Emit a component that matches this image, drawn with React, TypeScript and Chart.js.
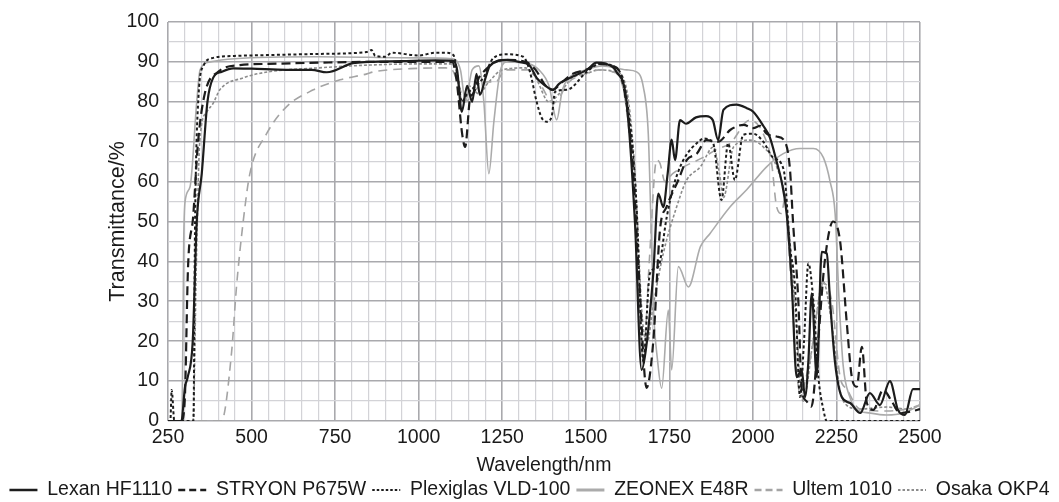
import React, { useEffect, useRef } from "react";
import { Chart, registerables } from "chart.js";

Chart.register(...registerables);

const seriesNames = ["Lexan HF1110", "STRYON P675W", "Plexiglas VLD-100", "ZEONEX E48R", "Ultem 1010", "Osaka OKP4"];

const xTickLabels = [250, 500, 750, 1000, 1250, 1500, 1750, 2000, 2250, 2500];
const yTickLabels = [0, 10, 20, 30, 40, 50, 60, 70, 80, 90, 100];

const lexanNm = [250, 290, 301, 309, 324, 336, 351, 368, 385, 410, 445, 500, 605, 680, 725, 803, 850, 950, 1050, 1100, 1115, 1129, 1145, 1160, 1173, 1183, 1200, 1213, 1263, 1300, 1333, 1353, 1380, 1402, 1420, 1453, 1503, 1532, 1560, 1592, 1622, 1647, 1667, 1680, 1702, 1717, 1732, 1745, 1757, 1767, 1782, 1800, 1830, 1860, 1880, 1896, 1912, 1951, 1982, 2001, 2031, 2051, 2071, 2086, 2101, 2116, 2131, 2146, 2156, 2166, 2176, 2191, 2206, 2221, 2231, 2246, 2266, 2291, 2321, 2350, 2380, 2410, 2434, 2455, 2479, 2500];
const lexanT = [0, 0, 8.6, 11, 20, 50, 62, 80, 86, 87.5, 88.4, 88.3, 88, 88, 87.4, 89.7, 90, 90.2, 90.4, 90.3, 88, 77.5, 84, 80, 87, 81.7, 86, 89, 90.5, 90, 89, 86, 84, 83, 84.5, 86, 88, 89.8, 89.5, 87.5, 80, 50, 12.8, 18, 37, 57, 53.6, 62, 70.5, 65.4, 75.4, 74.5, 76.1, 76.4, 75.4, 70.4, 78, 79.3, 78.4, 77.5, 74, 71, 65, 60, 52, 35, 11, 12.8, 6, 15, 32, 11, 42.4, 42, 30, 14.5, 6, 4.5, 2, 7, 4, 10, 2.8, 1.5, 8, 8];

const stryonNm = [250, 290, 300, 310, 325, 340, 360, 400, 465, 550, 700, 850, 1000, 1100, 1114, 1130, 1139, 1154, 1163, 1180, 1200, 1230, 1260, 1320, 1350, 1380, 1400, 1430, 1460, 1500, 1540, 1580, 1610, 1640, 1660, 1682, 1702, 1722, 1742, 1777, 1802, 1832, 1861, 1896, 1933, 1972, 2001, 2022, 2041, 2071, 2096, 2111, 2120, 2136, 2146, 2160, 2175, 2195, 2215, 2240, 2261, 2281, 2296, 2311, 2326, 2341, 2360, 2390, 2415, 2440, 2479, 2500];
const stryonT = [0, 0, 5, 38.7, 51, 70, 82, 87.5, 89.2, 89.5, 89.8, 90, 90, 90, 85, 72, 68.7, 81, 82, 86, 88, 90, 90.5, 90, 88, 84, 83, 85, 87, 88, 89.5, 89, 85, 65, 35, 8.3, 20, 47.9, 53.7, 60.4, 65.4, 67, 70.4, 70, 73, 74.2, 73.4, 74, 72, 71.3, 70, 63, 50, 30, 8, 5, 3.6, 20, 40, 50, 45, 24.5, 11, 8.6, 18.6, 4.5, 2.8, 7.8, 5, 2, 2.5, 3];

const plexiNm = [250, 257, 261, 269, 326, 331, 341, 356, 385, 450, 545, 700, 845, 859, 870, 900, 920, 1000, 1050, 1080, 1104, 1119, 1129, 1145, 1164, 1193, 1223, 1263, 1313, 1333, 1353, 1368, 1383, 1398, 1408, 1443, 1503, 1543, 1580, 1622, 1652, 1667, 1672, 1692, 1717, 1742, 1762, 1792, 1843, 1851, 1881, 1906, 1926, 1946, 1971, 2001, 2031, 2061, 2092, 2111, 2126, 2141, 2153, 2166, 2181, 2196, 2211, 2221, 2500];
const plexiT = [0, 0, 7.8, 0, 0, 50, 81, 89, 91, 91.5, 91.7, 92, 92.5, 93, 91.5, 91.3, 92.3, 91.6, 92.3, 92.3, 91.7, 85, 80, 82, 83.5, 86, 90.9, 91.9, 91.3, 87.5, 80, 76, 75, 76.3, 82.5, 83, 87.5, 89.6, 89, 81, 53.7, 20, 15, 37, 38.7, 51, 58.7, 65.4, 70.4, 70.8, 69.6, 55.4, 69.6, 60.4, 71.7, 72, 70, 66, 63, 43.7, 33.6, 6, 20, 39.5, 30, 11, 2.8, 0, 0];

const zeonexNm = [250, 292, 297, 301, 316, 336, 346, 376, 450, 700, 1000, 1100, 1125, 1140, 1160, 1180, 1195, 1210, 1225, 1245, 1265, 1330, 1360, 1390, 1413, 1430, 1450, 1500, 1550, 1622, 1652, 1672, 1687, 1695, 1702, 1715, 1727, 1747, 1757, 1777, 1807, 1843, 1872, 1932, 1982, 2041, 2091, 2141, 2181, 2211, 2231, 2246, 2258, 2270, 2290, 2310, 2350, 2400, 2450, 2500];
const zeonexT = [0, 0, 45, 55, 58.7, 80, 88, 90, 90.8, 91.3, 91, 90.8, 88, 80, 88, 89, 80, 62, 75, 88, 90, 89.5, 88, 84, 75.5, 83, 86, 88, 89, 88, 87.5, 83.8, 72, 50, 29, 15, 8.2, 27.8, 12.8, 38.7, 33.6, 43.7, 47, 53.7, 58, 63.7, 67, 68.3, 68.3, 66, 60, 52, 30, 14, 6, 3, 2, 1.5, 2, 4];

const ultemNm = [250, 410, 440, 455, 475, 495, 545, 605, 685, 765, 845, 865, 1000, 1080, 1100, 1120, 1140, 1170, 1200, 1230, 1260, 1330, 1360, 1403, 1450, 1500, 1540, 1580, 1610, 1642, 1672, 1690, 1712, 1722, 1737, 1760, 1800, 1850, 1890, 1932, 1991, 2031, 2056, 2071, 2086, 2096, 2110, 2141, 2170, 2211, 2236, 2261, 2281, 2320, 2400, 2460, 2500];
const ultemT = [0, 0, 17, 33.7, 50, 62, 72, 78.8, 83, 85.5, 87, 87.5, 88.4, 88.5, 88, 84, 80, 83, 85, 85, 88, 88, 85, 79.7, 85, 87, 88, 87.5, 84, 60, 15.7, 40, 65.4, 64.6, 60, 62, 64, 66, 68, 69.6, 75.4, 72, 64.6, 53.7, 52, 56, 40, 7, 15, 34.5, 30, 11, 8, 3, 2.5, 3, 4];

const osakaNm = [250, 325, 335, 345, 366, 385, 405, 475, 550, 700, 850, 1000, 1100, 1115, 1130, 1150, 1180, 1210, 1250, 1320, 1350, 1390, 1420, 1460, 1500, 1540, 1590, 1620, 1645, 1670, 1685, 1700, 1732, 1772, 1802, 1843, 1882, 1900, 1912, 1942, 1991, 2031, 2071, 2101, 2125, 2150, 2180, 2210, 2235, 2260, 2280, 2320, 2400, 2460, 2500];
const osakaT = [0, 0, 40, 70, 77.5, 79.6, 83, 86, 87.5, 88.5, 89.2, 89.5, 89.5, 87, 80, 84, 82, 85, 88, 88.5, 86, 80, 82, 86, 87, 88, 87.5, 84, 65, 25, 20, 28, 42, 53.7, 60.4, 63.7, 68.7, 62, 56, 68.7, 70.4, 68.7, 63.7, 53.7, 30, 5, 20, 35, 25, 8, 4, 3, 3.5, 3, 4];

const FONT = "'Liberation Sans', Arial, Helvetica, sans-serif";

function pts(xs: number[], ys: number[]) {
  return xs.map((x, i) => ({ x, y: ys[i] }));
}

export default function App() {
  const ref = useRef<HTMLCanvasElement | null>(null);

  useEffect(() => {
    if (!ref.current) return;
    Chart.defaults.font.family = FONT;
    const styles = [
      { color: "#1c1c1c", width: 2.2, dash: [] as number[] },
      { color: "#1c1c1c", width: 2.2, dash: [9, 5] },
      { color: "#1c1c1c", width: 2, dash: [3, 2.5] },
      { color: "#ababab", width: 1.6, dash: [] as number[] },
      { color: "#a4a4a4", width: 1.6, dash: [9, 6] },
      { color: "#8c8c8c", width: 1.6, dash: [3, 2] },
    ];
    const legendWidths = [2.6, 2.6, 2.2, 3, 2.4, 2.2];
    const legendDash = [[], [7, 4], [2.5, 2], [], [7, 4], [2.5, 2]];
    const dataSets = [
      pts(lexanNm, lexanT),
      pts(stryonNm, stryonT),
      pts(plexiNm, plexiT),
      pts(zeonexNm, zeonexT),
      pts(ultemNm, ultemT),
      pts(osakaNm, osakaT),
    ];
    const major = "#a9a9ad";
    const minor = "#d3d3d7";
    const defaultGen = (Chart.defaults.plugins.legend.labels as any).generateLabels;
    const chart = new Chart(ref.current, {
      type: "line",
      data: {
        datasets: dataSets.map((d, i) => ({
          label: seriesNames[i],
          data: d,
          borderColor: styles[i].color,
          backgroundColor: styles[i].color,
          borderWidth: styles[i].width,
          borderDash: styles[i].dash,
          pointRadius: 0,
          pointHoverRadius: 0,
          fill: false,
          cubicInterpolationMode: "monotone" as const,
        })),
      },
      options: {
        responsive: false,
        animation: false,
        events: [],
        layout: { padding: { top: 22, bottom: -7.75, left: 0, right: 0 } },
        plugins: {
          tooltip: { enabled: false },
          legend: {
            position: "bottom",
            labels: {
              usePointStyle: true,
              pointStyle: "line",
              pointStyleWidth: 28,
              padding: 6,
              color: "#1a1a1a",
              font: { size: 19.5, family: FONT },
              generateLabels: (c: any) => {
                const items = defaultGen(c);
                items.forEach((it: any, i: number) => {
                  it.lineDash = legendDash[i];
                  it.lineWidth = legendWidths[i];
                  it.strokeStyle = styles[i].color;
                  it.fillStyle = styles[i].color;
                  it.pointStyle = "line";
                });
                return items;
              },
            },
          },
        },
        scales: {
          x: {
            type: "linear",
            min: xTickLabels[0],
            max: xTickLabels[xTickLabels.length - 1],
            afterFit: (s: any) => { s.height = 53.25; },
            ticks: {
              stepSize: 50,
              autoSkip: false,
              maxRotation: 0,
              minRotation: 0,
              padding: 5,
              color: "#1a1a1a",
              font: { size: 19.5, family: FONT },
              callback: (v: any) => (xTickLabels.includes(Number(v)) ? String(v) : ""),
            },
            grid: {
              drawTicks: false,
              color: (c: any) => (c.tick && c.tick.value % 250 === 0 ? major : minor),
              lineWidth: (c: any) => (c.tick && c.tick.value % 250 === 0 ? 1.6 : 1.2),
            },
            border: { display: false },
            title: {
              display: true,
              text: "Wavelength/nm",
              color: "#1a1a1a",
              font: { size: 19.5, family: FONT },
              padding: { top: 0, bottom: -3.5 },
            },
          },
          y: {
            type: "linear",
            min: yTickLabels[0],
            max: yTickLabels[yTickLabels.length - 1],
            afterFit: (s: any) => { s.width = 168; },
            ticks: {
              stepSize: 5,
              autoSkip: false,
              padding: 9,
              color: "#1a1a1a",
              font: { size: 19.5, family: FONT },
              callback: (v: any) => (yTickLabels.includes(Number(v)) ? String(v) : ""),
            },
            grid: {
              drawTicks: false,
              color: (c: any) => (c.tick && c.tick.value % 10 === 0 ? major : minor),
              lineWidth: (c: any) => (c.tick && c.tick.value % 10 === 0 ? 1.6 : 1.2),
            },
            border: { display: false },
            title: {
              display: true,
              text: "Transmittance/%",
              color: "#1a1a1a",
              font: { size: 21.5, family: FONT },
              padding: { top: 105, bottom: 0 },
            },
          },
          yR: {
            type: "linear",
            position: "right",
            display: true,
            afterFit: (s: any) => { s.width = 139; },
            ticks: { display: false },
            grid: { display: false, drawTicks: false },
            border: { display: false },
          },
        },
      },
    });
    return () => chart.destroy();
  }, []);

  return (
    <div style={{ position: "fixed", left: 0, top: 0, width: 1059, height: 502, overflow: "hidden", background: "#fff" }}>
      <canvas ref={ref} width={1059} height={502} style={{ display: "block", width: 1059, height: 502 }} />
    </div>
  );
}
